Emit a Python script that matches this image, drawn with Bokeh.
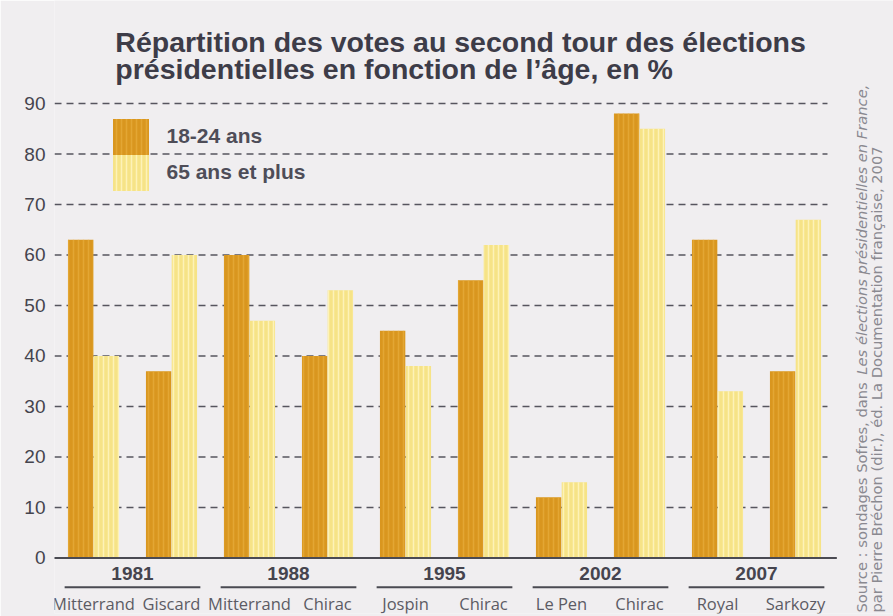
import numpy as np
from bokeh.plotting import figure
from bokeh.models import ColumnDataSource, FixedTicker, Legend, LegendItem, Range1d
from bokeh.transform import dodge
from bokeh.core.properties import value
from bokeh.embed import file_html
from bokeh.resources import INLINE

# ---- data ----
years = ["1981", "1988", "1995", "2002", "2007"]
cand_years = ["1981", "1981", "1988", "1988", "1995", "1995", "2002", "2002", "2007", "2007"]
candidates = ["Mitterrand", "Giscard", "Mitterrand", "Chirac", "Jospin", "Chirac",
              "Le Pen", "Chirac", "Royal", "Sarkozy"]
young_18_24 = [63, 37, 60, 40, 45, 55, 12, 88, 63, 37]
old_65_plus = [40, 60, 47, 53, 38, 62, 15, 85, 33, 67]
y_ticks = [0, 10, 20, 30, 40, 50, 60, 70, 80, 90]
series_labels = ["18-24 ans", "65 ans et plus"]
title_lines = ["Répartition des votes au second tour des élections",
               "présidentielles en fonction de l’âge, en %"]
source_parts = ["Source : sondages Sofres, dans ",
                "Les élections présidentielles en France,",
                "par Pierre Bréchon (dir.), éd. La Documentation française, 2007"]

DARK = "#d9961f"
DARK_HATCH = "#eab042"
LIGHT = "#f6e387"
LIGHT_HATCH = "#fff6c4"
TXT = "#45444e"
BG = "#f0eef0"

# one slot per candidate
cand_x = np.arange(len(candidates)) + 0.5
year_x = [float(np.mean([cx for cx, cy in zip(cand_x, cand_years) if cy == y])) for y in years]

src = ColumnDataSource(dict(x=cand_x, young=young_18_24, old=old_65_plus, cand=candidates))
ysrc = ColumnDataSource(dict(x=year_x, text=years))
gsrc = ColumnDataSource(dict(y=y_ticks[1:]))

p = figure(width=893, height=616, x_range=Range1d(0, 839 / 78), y_range=Range1d(-11, 110.4),
           output_backend="svg", toolbar_location=None, title=None,
           x_axis_location=None,
           min_border_left=54, min_border_right=0, min_border_top=0, min_border_bottom=3)
p.background_fill_color = BG
p.border_fill_color = BG
p.outline_line_color = None

# y axis (labels only)
p.yaxis.ticker = FixedTicker(ticks=y_ticks)
p.yaxis.axis_line_color = None
p.yaxis.major_tick_line_color = None
p.yaxis.minor_tick_line_color = None
p.yaxis.major_tick_out = 0
p.yaxis.major_label_standoff = 9
p.yaxis.major_label_text_font = "Liberation Sans"
p.yaxis.major_label_text_font_size = "19px"
p.yaxis.major_label_text_color = TXT
p.xgrid.visible = False
p.ygrid.visible = False

# dashed gridlines at the tick values (stop short of the source note)
p.segment(x0=0, x1=len(candidates) - 0.09, y0="y", y1="y", source=gsrc,
          line_color="#56555e", line_width=1.5, line_dash="7 5")

# bars
r_young = p.vbar(x=dodge("x", -0.165), top="young", bottom=0, width=0.325,
                 source=src, fill_color=DARK, line_color=None,
                 hatch_pattern="vertical_line", hatch_color=DARK_HATCH, hatch_scale=5,
                 hatch_weight=1.5, hatch_alpha=0.6)
r_old = p.vbar(x=dodge("x", 0.165), top="old", bottom=0, width=0.325,
               source=src, fill_color=LIGHT, line_color=None,
               hatch_pattern="vertical_line", hatch_color=LIGHT_HATCH, hatch_scale=5,
               hatch_weight=1.5, hatch_alpha=0.8)

# baseline at 0
p.segment(x0=-0.02, x1=len(candidates) + 0.03, y0=0, y1=0, line_color="#4a4a52", line_width=2)

# year labels and underlines
p.text(x="x", y=-3.05, text="text", source=ysrc, text_align="center", text_baseline="middle",
       text_font=value("Liberation Sans"), text_font_style="bold",
       text_font_size=value("19px"), text_color=TXT)
p.segment(x0=dodge("x", -0.87), x1=dodge("x", 0.87), y0=-5.8, y1=-5.8, source=ysrc,
          line_color="#4a4a52", line_width=2)

# candidate labels
p.text(x="x", y=-9.1, text="cand", source=src, text_align="center", text_baseline="middle",
       text_font=value("Open Sans"), text_font_size=value("16.5px"), text_color="#5c5b64")

# title
p.text(x=[0.78, 0.78], y=[102.2, 96.85], text=title_lines, text_align="left",
       text_baseline="alphabetic", text_font=value("Liberation Sans"),
       text_font_style="bold", text_font_size=value("28.5px"), text_color="#3d3c48")

# legend: two stacked swatches touching each other
leg_common = dict(glyph_width=45, glyph_height=45, padding=0, margin=0, label_standoff=14,
                  label_text_font="Liberation Sans", label_text_font_style="bold",
                  label_text_font_size="21px", label_text_color="#4e4d58",
                  border_line_color=None, background_fill_alpha=0)
p.add_layout(Legend(items=[LegendItem(label=series_labels[0], renderers=[r_young])],
                    location=(53.5, 454.5), **leg_common))
p.add_layout(Legend(items=[LegendItem(label=series_labels[1], renderers=[r_old])],
                    location=(53.5, 418.5), **leg_common))

# source note, rotated, on the right
note_font = dict(angle=90, angle_units="deg", text_align="left", text_baseline="middle",
                 text_font=value("DejaVu Sans"), text_font_size=value("14.7px"),
                 text_color="#8a8990")
p.text(x=[10.346, 10.538], y=[-10.8, -10.8], text=[source_parts[0], source_parts[2]],
       **note_font)
p.text(x=[10.346], y=[36.3], text=[source_parts[1]], text_font_style="italic", **note_font)

open("out.html", "w").write(file_html(p, INLINE))
